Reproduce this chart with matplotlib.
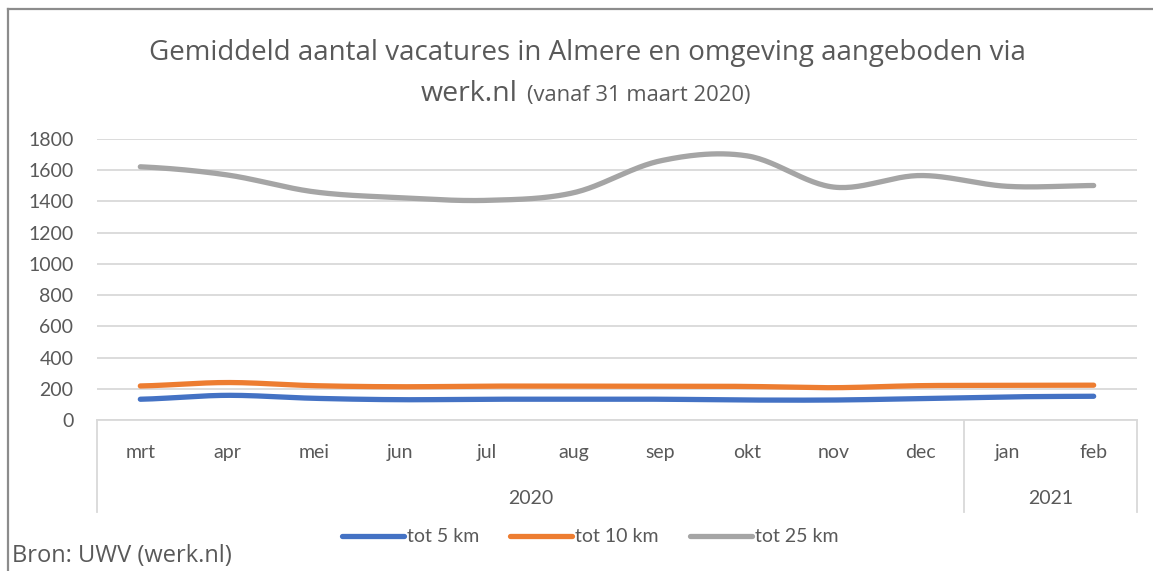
import numpy as np
import matplotlib
matplotlib.use('Agg')
from matplotlib import pyplot as plt
from matplotlib.transforms import blended_transform_factory
from matplotlib.lines import Line2D

# data
months = ['mrt', 'apr', 'mei', 'jun', 'jul', 'aug', 'sep', 'okt', 'nov', 'dec', 'jan', 'feb']
years = ['2020', '2021']
year_counts = [10, 2]
tot_5km = [133, 158, 139, 130, 133, 133, 133, 128, 128, 137, 148, 152]
tot_10km = [218, 240, 220, 213, 217, 217, 217, 215, 207, 220, 222, 223]
tot_25km = [1622, 1570, 1462, 1424, 1407, 1456, 1660, 1692, 1492, 1566, 1497, 1502]
series_names = ['tot 5 km', 'tot 10 km', 'tot 25 km']
colors = ['#4472C4', '#ED7D31', '#A5A5A5']
text_col = '#595959'


def smooth(y, n=30):
    # excel-style smoothed line (catmull-rom through the points)
    y = np.asarray(y, dtype=float)
    x = np.arange(len(y), dtype=float)
    xs, ys = [], []
    for i in range(len(y) - 1):
        y0 = y[i - 1] if i > 0 else y[i]
        y3 = y[i + 2] if i + 2 < len(y) else y[i + 1]
        m1 = (y[i + 1] - y0) / 2
        m2 = (y3 - y[i]) / 2
        t = np.linspace(0, 1, n)
        h00 = 2 * t**3 - 3 * t**2 + 1
        h10 = t**3 - 2 * t**2 + t
        h01 = -2 * t**3 + 3 * t**2
        h11 = t**3 - t**2
        xs.append(x[i] + t)
        ys.append(h00 * y[i] + h10 * m1 + h01 * y[i + 1] + h11 * m2)
    return np.concatenate(xs), np.concatenate(ys)


fig = plt.figure(figsize=(11.53, 5.71), dpi=100)
ax = fig.add_axes([97 / 1153, 1 - 420 / 571, 1040 / 1153, 281 / 571])

for vals, c, name in zip([tot_5km, tot_10km, tot_25km], colors, series_names):
    sx, sy = smooth(vals)
    ax.plot(sx, sy, color=c, lw=3.8, solid_capstyle='round', label=name, zorder=3)

ax.set_xlim(-0.5, len(months) - 0.5)
ax.set_ylim(0, 1800)
ax.set_yticks(np.arange(0, 1801, 200))
ax.grid(axis='y', color='#D9D9D9', lw=1.3)
ax.set_axisbelow(True)
for s in ['top', 'right', 'left']:
    ax.spines[s].set_visible(False)
ax.spines['bottom'].set_color('#D9D9D9')
ax.spines['bottom'].set_linewidth(1.3)
ax.tick_params(axis='y', length=0, pad=17, labelsize=14, labelcolor=text_col)
ax.set_xticks(range(len(months)))
ax.set_xticklabels(months)
ax.tick_params(axis='x', length=0, pad=17.5, labelsize=14, labelcolor=text_col)
for lab in ax.get_xticklabels() + ax.get_yticklabels():
    lab.set_fontfamily('Lato')

# second level of the category axis (years)
trans = blended_transform_factory(ax.transData, ax.transAxes)
edges = np.concatenate([[0], np.cumsum(year_counts)]) - 0.5
for e in edges:
    ax.add_line(Line2D([e, e], [0, -0.327], transform=trans, color='#D9D9D9',
                       lw=1.3, clip_on=False))
for yr, a, b in zip(years, edges[:-1], edges[1:]):
    ax.text((a + b) / 2, -0.281, yr, transform=trans, ha='center', va='center',
            fontsize=14, color=text_col, family='Lato')

# title
fig.text(587 / 1153, 1 - 53 / 571, 'Gemiddeld aantal vacatures in Almere en omgeving aangeboden via',
         ha='center', va='center', fontsize=20, color=text_col, family='Open Sans')
fig.text(518 / 1153, 1 - 94 / 571, 'werk.nl', ha='right', va='center',
         fontsize=20.5, color=text_col, family='Open Sans')
fig.text(527 / 1153, 1 - 95 / 571, '(vanaf 31 maart 2020)', ha='left', va='center',
         fontsize=15.8, color=text_col, family='Open Sans')

leg = fig.legend(loc='center', bbox_to_anchor=(590 / 1153, 1 - 537 / 571), ncol=3,
                 frameon=False, handlelength=3.2, handletextpad=0.15,
                 columnspacing=1.6, prop={'family': 'Lato', 'size': 14})
for t in leg.get_texts():
    t.set_color(text_col)

fig.text(12 / 1153, 1 - 556 / 571, 'Bron: UWV (werk.nl)', ha='left', va='center',
         fontsize=17, color=text_col, family='Open Sans')

# chart border (left and top only visible)
fig.add_artist(Line2D([7.5 / 1153, 7.5 / 1153], [0, 1 - 9 / 571], transform=fig.transFigure,
                      color='#8C8C8C', lw=1.6))
fig.add_artist(Line2D([7.5 / 1153, 1], [1 - 9 / 571, 1 - 9 / 571], transform=fig.transFigure,
                      color='#8C8C8C', lw=1.6))

fig.savefig('out.png', dpi=100)
